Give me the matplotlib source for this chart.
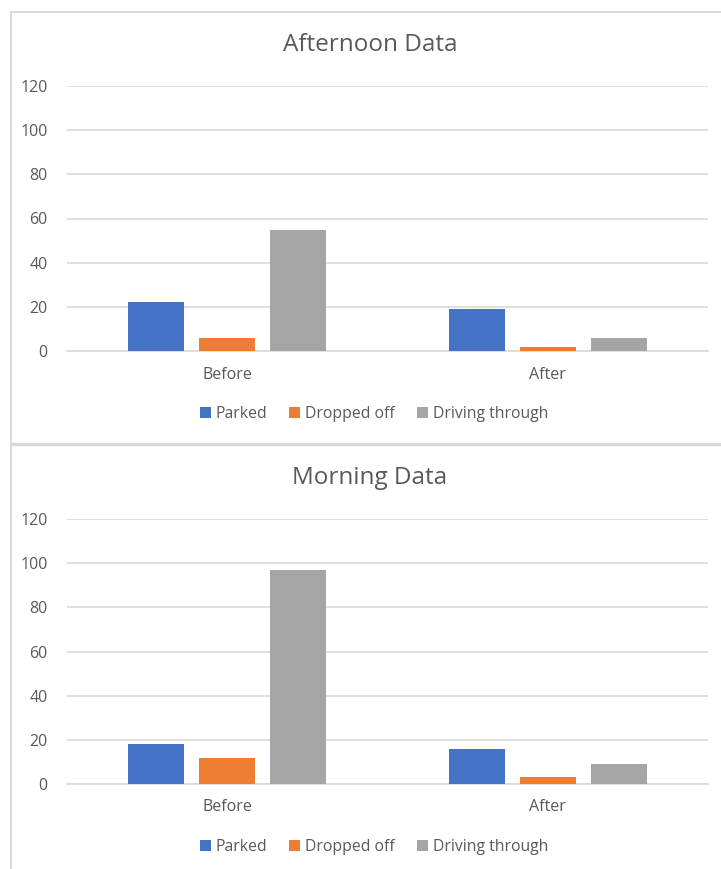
import matplotlib
matplotlib.use("Agg")
import matplotlib.pyplot as plt
from matplotlib.patches import Patch
from matplotlib.lines import Line2D
import numpy as np

categories = ["Before", "After"]
series_names = ["Parked", "Dropped off", "Driving through"]
colors = ["#4472C4", "#ED7D31", "#A5A5A5"]

afternoon_parked = [22, 19]
afternoon_dropped = [6, 2]
afternoon_driving = [55, 6]

morning_parked = [18, 16]
morning_dropped = [12, 3]
morning_driving = [97, 9]

yticks = [0, 20, 40, 60, 80, 100, 120]

W, H = 721, 869
fig = plt.figure(figsize=(W / 100, H / 100), dpi=100)
fig.patch.set_facecolor("white")
plt.rcParams['font.family'] = ['Open Sans', 'DejaVu Sans']

text_color = "#595959"
grid_color = "#D9D9D9"


def px_ax(x0, y0, x1, y1):
    return [x0 / W, 1 - y1 / H, (x1 - x0) / W, (y1 - y0) / H]


def draw_chart(y_top, y0_px, y120_px, title, title_y, label_y, legend_y, data):
    ax = fig.add_axes(px_ax(67, y120_px, 708, y0_px))
    x = np.arange(len(categories))
    bw = 0.175
    off = 0.222
    for i, (vals, name, c) in enumerate(zip(data, series_names, colors)):
        ax.bar(x + (i - 1) * off, vals, width=bw, color=c, label=name, zorder=3)
    ax.set_xlim(-0.5, 1.5)
    ax.set_ylim(0, 120)
    ax.set_yticks(yticks)
    ax.set_yticklabels([str(v) for v in yticks], fontsize=11.5, color=text_color)
    ax.yaxis.grid(True, color=grid_color, linewidth=1.2, zorder=0)
    ax.set_axisbelow(True)
    for s in ["top", "right", "left"]:
        ax.spines[s].set_visible(False)
    ax.spines["bottom"].set_color(grid_color)
    ax.spines["bottom"].set_linewidth(1.2)
    ax.tick_params(axis="y", length=0, pad=14)
    ax.tick_params(axis="x", length=0)
    ax.set_xticks([])
    for xi, cat in zip(x, categories):
        fig.text((67 + (xi + 0.5) * 320.5) / W, 1 - label_y / H, cat,
                 ha="center", va="center", fontsize=11.5, color=text_color)
    fig.text(370 / W, 1 - title_y / H, title, ha="center", va="center",
             fontsize=17.5, color=text_color)
    handles = [Patch(facecolor=c, edgecolor="none") for c in colors]
    fig.legend(handles, series_names, loc="center", ncol=3,
               bbox_to_anchor=(374 / W, 1 - legend_y / H), frameon=False,
               fontsize=11.3, labelcolor=text_color, handlelength=0.7,
               handleheight=0.7, handletextpad=0.3, columnspacing=1.4)
    return ax


draw_chart(12, 351, 86, "Afternoon Data", 45, 375, 414,
           [afternoon_parked, afternoon_dropped, afternoon_driving])
draw_chart(445, 784, 519, "Morning Data", 478, 807, 847,
           [morning_parked, morning_dropped, morning_driving])

# chart borders
bc = "#D9D9D9"
fig.add_artist(Line2D([11 / W, 11 / W], [1 - 12 / H, 1 - 443 / H], color=bc, lw=1.5))
fig.add_artist(Line2D([11 / W, 1.0], [1 - 12 / H, 1 - 12 / H], color=bc, lw=1.5))
fig.add_artist(Line2D([11 / W, 1.0], [1 - 444 / H, 1 - 444 / H], color=bc, lw=2.5))
fig.add_artist(Line2D([11 / W, 11 / W], [1 - 445 / H, 0], color=bc, lw=1.5))

fig.savefig("out.png", dpi=100, facecolor="white")
